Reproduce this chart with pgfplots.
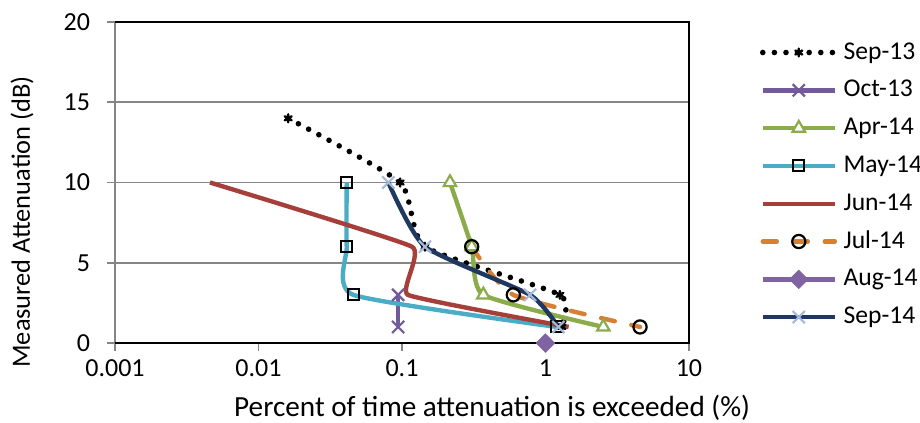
\documentclass[border=0pt]{standalone}
\usepackage{fontspec}
\setmainfont{Carlito}
\usepackage{pgfplots}
\pgfplotsset{compat=1.18}

\definecolor{gridgray}{RGB}{134,134,134}
\definecolor{cOct}{RGB}{115,90,155}
\definecolor{cApr}{RGB}{140,172,76}
\definecolor{cMay}{RGB}{75,172,198}
\definecolor{cJun}{RGB}{166,62,58}
\definecolor{cJul}{RGB}{215,128,52}
\definecolor{cAug}{RGB}{128,100,162}
\definecolor{cSep}{RGB}{31,56,96}
\definecolor{cSepM}{RGB}{165,185,218}

\newcommand{\chartfont}{\fontsize{13bp}{15.6bp}\selectfont}
\newcommand{\legendfont}{\fontsize{12.8bp}{15.4bp}\selectfont}
\newcommand{\xtitlefont}{\fontsize{14.6bp}{17.5bp}\selectfont}
\newcommand{\ytitlefont}{\fontsize{13.2bp}{15.8bp}\selectfont}

\begin{document}
\chartfont
\begin{tikzpicture}
\begin{axis}[
  scale only axis,
  width=287bp, height=160.5bp,
  xmode=log, xmin=0.001, xmax=10,
  ymin=0, ymax=20,
  xtick={0.001,0.01,0.1,1,10},
  xticklabels={0.001,0.01,0.1,1,10},
  ytick={0,5,10,15,20},
  xminorticks=false,
  /pgf/number format/assume math mode=true,
  xtick pos=bottom, ytick pos=left,
  tick align=outside,
  major tick length=4bp,
  tick style={draw=gridgray, line width=0.8bp},
  ymajorgrids,
  major grid style={draw=gridgray, line width=0.8bp},
  axis line style={draw=none},
  tick label style={font=\chartfont},
  yticklabel style={xshift=-4bp},
  xlabel={Percent of time attenuation is exceeded (\%)},
  ylabel={Measured Attenuation (dB)},
  xlabel style={at={(rel axis cs:0.657,-0.2025)}, anchor=center, font=\xtitlefont},
  ylabel style={at={(rel axis cs:-0.162,0.377)}, anchor=center, font=\ytitlefont},
  clip=false,
  legend style={at={(1,1)}, anchor=north west, xshift=35.5bp, yshift=-9bp,
    draw=none, fill=none, inner sep=0pt, outer sep=0pt,
    row sep=6.4bp, column sep=0bp, font=\legendfont,
    nodes={inner sep=0pt, text height=9.5bp, text depth=3bp}},
  legend cell align=left,
  legend image code/.code={%
    \draw[mark repeat=2,mark phase=2] plot coordinates {(0bp,0bp) (18bp,0bp) (36bp,0bp)};
    \path (39bp,0bp);},
]
% plot frame: grey left axis, black elsewhere
\draw[gridgray, line width=0.8bp] (rel axis cs:0,0) -- (rel axis cs:0,1);
\draw[black, line width=1bp] (rel axis cs:0,0) -- (rel axis cs:1,0) -- (rel axis cs:1,1) -- (rel axis cs:0,1);

\addplot[black, line width=2.8bp, line cap=round, dash pattern=on 0bp off 5.8bp,
  smooth, tension=0.33, mark=asterisk, mark size=2bp,
  mark options={solid, line width=1.2bp, black}]
  coordinates {(0.0161,14) (0.097,10) (0.1445,6) (1.26,3) (1.3,1)};
\addlegendentry{Sep-13}

\addplot[cOct, line width=2.2bp, mark=x, mark size=4.3bp, mark options={line width=1.1bp}]
  coordinates {(0.094,3) (0.094,1)};
\addlegendentry{Oct-13}

\addplot[cApr, line width=2.2bp, smooth, tension=0.33, mark=triangle*, mark size=3.6bp,
  mark options={fill=white, line width=1.1bp}]
  coordinates {(0.216,10) (0.306,6) (0.369,3) (2.53,1)};
\addlegendentry{Apr-14}

\addplot[cMay, line width=2.2bp, smooth, tension=0.33, mark=square, mark size=2.75bp,
  mark options={draw=black, line width=1bp}]
  coordinates {(0.0412,10) (0.0412,6) (0.0458,3) (1.2,1)};
\addlegendentry{May-14}

\addplot[cJun, line width=2.2bp, smooth, tension=0.2]
  coordinates {(0.00459,10) (0.1174,6) (0.110,3) (1.45,1)};
\addlegendentry{Jun-14}

\addplot[cJul, line width=2.2bp, line cap=round, dash pattern=on 7bp off 8.5bp,
  smooth, tension=0.33, mark=o, mark size=3.3bp,
  mark options={solid, draw=black, line width=1.1bp}]
  coordinates {(0.306,6) (0.597,3) (4.56,1)};
\addlegendentry{Jul-14}

\addplot[cAug, line width=2.2bp, mark=square*, mark size=2.35bp,
  mark options={rotate=45}]
  coordinates {(1,0)};
\addlegendentry{Aug-14}

\addplot[cSep, line width=2.2bp, smooth, tension=0.33, mark=x, mark size=4.3bp,
  mark options={draw=cSepM, line width=1.1bp}]
  coordinates {(0.0804,10) (0.1445,6) (0.78,3) (1.23,1)};
\addlegendentry{Sep-14}
\end{axis}
\pgfresetboundingbox
\path (-57.5bp,-40bp) rectangle (402.5bp,171.5bp);
\end{tikzpicture}
\end{document}
